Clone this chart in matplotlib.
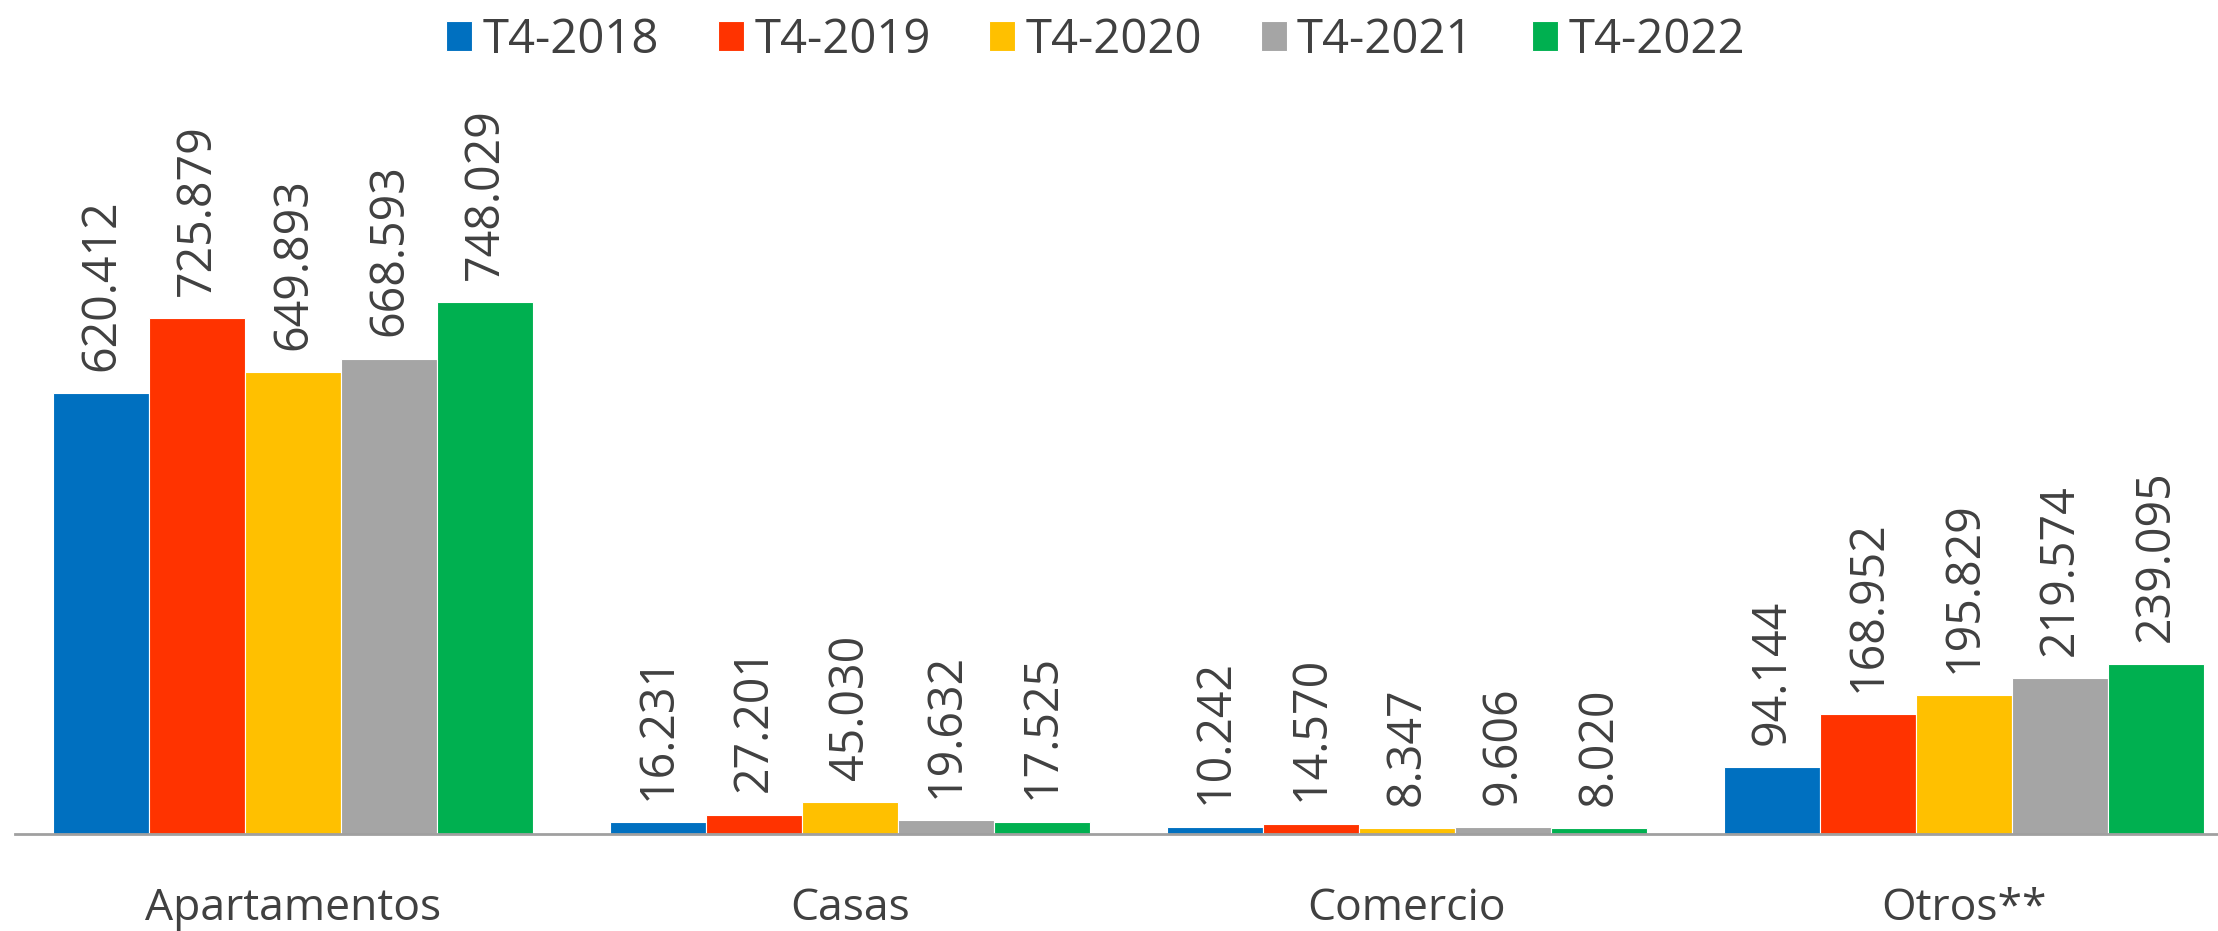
import numpy as np
import matplotlib
matplotlib.use("Agg")
import matplotlib.pyplot as plt

plt.rcParams['font.family'] = ['Open Sans', 'DejaVu Sans']

# Datos por tipo de destino y trimestre
categorias = ['Apartamentos', 'Casas', 'Comercio', 'Otros**']
periodos = ['T4-2018', 'T4-2019', 'T4-2020', 'T4-2021', 'T4-2022']
valores = [
    [620.412, 16.231, 10.242, 94.144],   # T4-2018
    [725.879, 27.201, 14.570, 168.952],  # T4-2019
    [649.893, 45.030, 8.347, 195.829],   # T4-2020
    [668.593, 19.632, 9.606, 219.574],   # T4-2021
    [748.029, 17.525, 8.020, 239.095],   # T4-2022
]
etiquetas = [
    ['620.412', '16.231', '10.242', '94.144'],
    ['725.879', '27.201', '14.570', '168.952'],
    ['649.893', '45.030', '8.347', '195.829'],
    ['668.593', '19.632', '9.606', '219.574'],
    ['748.029', '17.525', '8.020', '239.095'],
]
colores = ['#0070C0', '#FF3300', '#FFC000', '#A5A5A5', '#00B050']

texto = '#404040'

fig = plt.figure(figsize=(22.18, 9.31), dpi=100)
ax = fig.add_axes([15/2218, 97/931, 1 - 15/2218, 711/931])

x = np.arange(len(categorias))
ancho = 0.862 / len(periodos)

for i, (serie, col) in enumerate(zip(valores, colores)):
    pos = x - 0.431 + ancho*(i + 0.5)
    barras = ax.bar(pos, serie, ancho, color=col, edgecolor='white',
                    linewidth=0.8, label=periodos[i], zorder=2)
    for b, txt in zip(barras, etiquetas[i]):
        ax.annotate(txt, xy=(b.get_x() + b.get_width()/2, b.get_height()),
                    xytext=(0, 16), textcoords='offset points',
                    rotation=90, ha='center', va='bottom',
                    fontsize=33.5, color=texto)

ax.set_xlim(-0.5, 3.457)
ax.set_ylim(0, 1000)
ax.set_xticks(x)
ax.set_xticklabels(categorias, fontsize=32, color=texto)
ax.tick_params(axis='x', length=0, pad=38)
ax.set_yticks([])
for s in ['top', 'right', 'left']:
    ax.spines[s].set_visible(False)
ax.spines['bottom'].set_color('#A0A0A0')
ax.spines['bottom'].set_linewidth(2)

fig.legend(loc='center', bbox_to_anchor=(0.494, 1 - 40/931), ncol=5,
           frameon=False, fontsize=34, labelcolor=texto,
           handlelength=0.55, handleheight=0.61, handletextpad=0.22,
           columnspacing=1.24)

fig.savefig('out.png', dpi=100)
